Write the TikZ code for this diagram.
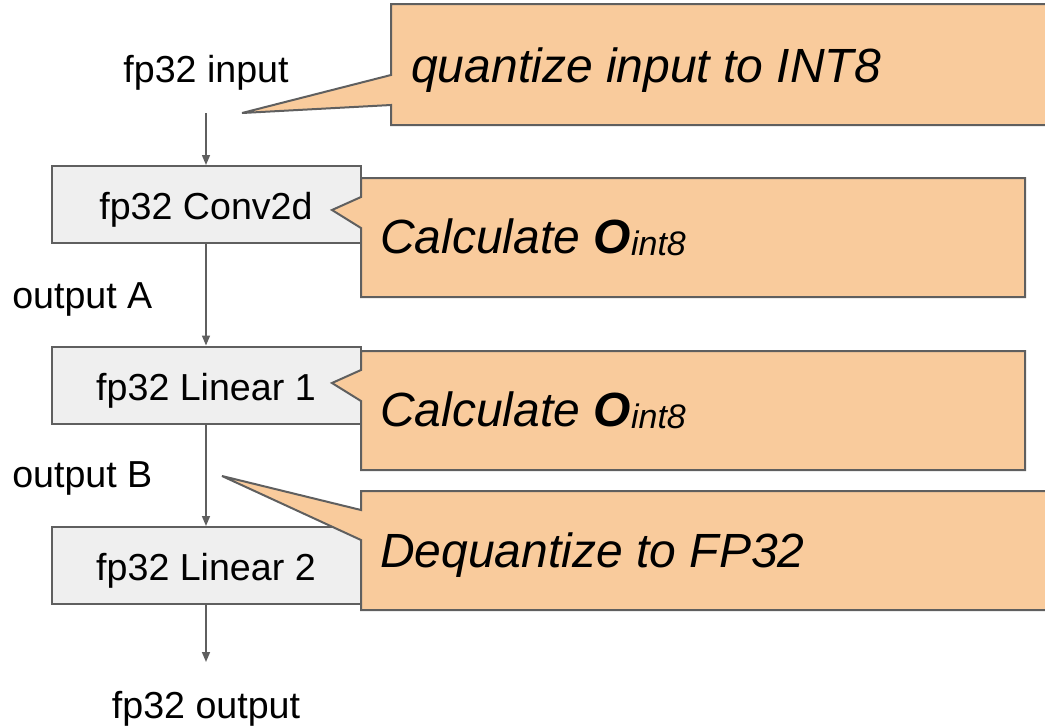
\documentclass[tikz,border=0pt]{standalone}
\usepackage{fontspec}
\setmainfont{Liberation Sans}
\usepackage{tikz}
\usetikzlibrary{arrows.meta,positioning}
\definecolor{NoteFill}{RGB}{249,203,156}
\definecolor{LayerFill}{RGB}{239,239,239}
\definecolor{edge}{RGB}{95,95,95}
\newcommand{\OintEight}{{\bfseries O}\raisebox{-0.05em}{\fontsize{25.5}{25.5}\selectfont int8}}

\begin{document}
\begin{tikzpicture}[x=0.75pt,y=-0.75pt,
   layer/.style={draw=edge,line width=1.5pt,fill=LayerFill,minimum width=231.75pt,
     minimum height=57.75pt,inner sep=0pt,text height=22.5pt,text depth=0pt,
     font=\fontsize{28.2}{34}\selectfont},
   lbl/.style={inner sep=0pt,font=\fontsize{28.2}{34}\selectfont},
   note/.style={draw=edge,line width=1.5pt,fill=NoteFill,line join=miter},
   notetxt/.style={inner sep=0pt,anchor=base west,font=\fontsize{36}{43}\selectfont\itshape},
   flow/.style={-{Triangle[length=7.5pt,width=6pt]},line width=1.1pt,edge}]
  \useasboundingbox (0,0) rectangle (1045,726);
  \clip (0,0) rectangle (1045,726);

  % network
  \node[lbl,anchor=base] (in) at (206,82) {fp32 input};
  \node[layer] (conv) at (206,204.5) {fp32 Conv2d};
  \node[layer] (lin1) at (206,385) {fp32 Linear 1};
  \node[layer] (lin2) at (206,565.5) {fp32 Linear 2};
  \node[lbl,anchor=base] (out) at (206,718) {fp32 output};
  \node[lbl,anchor=base west] (outA) at (12,308) {output A};
  \node[lbl,anchor=base west] (outB) at (12,487) {output B};
  \coordinate (inarr) at (206,113);
  \coordinate (outarr) at (206,662);
  \draw[flow] (inarr) -- (conv);
  \draw[flow] (conv) -- (lin1);
  \draw[flow] (lin1) -- (lin2);
  \draw[flow] (lin2) -- (outarr);

  % callouts
  \coordinate (tipq) at (242,113);
  \coordinate (tipc) at (332,210);
  \coordinate (tipl) at (332,383);
  \coordinate (tipd) at (222,476);
  \draw[note] (391,4) -- (391,75) -- (tipq) -- (391,105) -- (391,125)
     -- (1060,125) -- (1060,4) -- cycle;
  \draw[note] (361,178) -- (361,197) -- (tipc) -- (361,228) -- (361,297)
     -- (1025,297) -- (1025,178) -- cycle;
  \draw[note] (361,351) -- (361,370) -- (tipl) -- (361,401) -- (361,470)
     -- (1025,470) -- (1025,351) -- cycle;
  \draw[note] (361,491) -- (361,510) -- (tipd) -- (361,540) -- (361,610)
     -- (1060,610) -- (1060,491) -- cycle;
  \node[notetxt] (quant) at (411,82) {quantize input to INT8};
  \node[notetxt] (calc1) at (380,253) {Calculate \OintEight};
  \node[notetxt] (calc2) at (380,426) {Calculate \OintEight};
  \node[notetxt] (deq) at (380,567) {Dequantize to FP32};
\end{tikzpicture}
\end{document}
